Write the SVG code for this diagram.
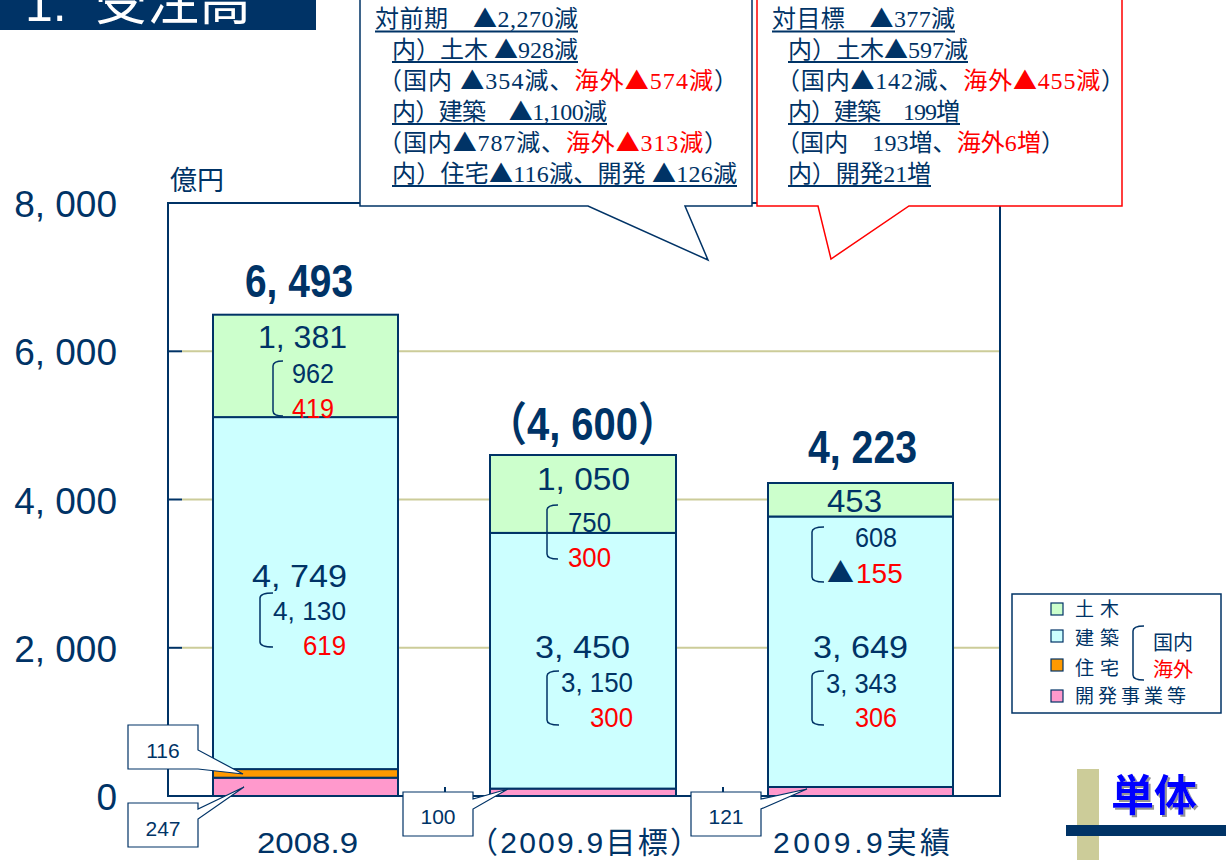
<svg xmlns="http://www.w3.org/2000/svg" width="1226" height="860" viewBox="0 0 1226 860">
<defs>
<style>
.sans{font-family:"Liberation Sans","Noto Sans CJK JP",sans-serif;fill:#003366}
.serif{font-family:"Liberation Serif","Noto Sans CJK JP",serif;fill:#003366;font-size:24px}
.cjk{font-family:"Noto Sans CJK JP",sans-serif;fill:#003366}
.tri{font-family:"Noto Sans CJK JP",sans-serif}
.red{fill:#FF0000}
.nv{stroke:#003366;stroke-width:2}
.br{stroke:#003366;stroke-width:1.5;fill:none}
.ul{stroke:#003366;stroke-width:2}
.grid{stroke:#CCCC99;stroke-width:2}
.tk{stroke:#003366;stroke-width:2}
.lbl{fill:#fff;stroke:#003366;stroke-width:1.2}
.n32{font-size:32px}
.n28{font-size:28px}
.tot{font-size:46px;font-weight:bold}
.ax{font-size:37px}
.g{fill:#CCFFCC}.c{fill:#CCFFFF}.o{fill:#FF9900}.p{fill:#FF99CC}
</style>
<filter id="sh" x="-10%" y="-10%" width="130%" height="130%">
<feDropShadow dx="2" dy="2" stdDeviation="0.6" flood-color="#888888" flood-opacity="0.9"/>
</filter>
</defs>
<rect width="1226" height="860" fill="#ffffff"/>

<g id="title">
<rect x="0" y="0" width="316" height="30" fill="#003366"/>
<text x="25" y="21" font-family="Liberation Sans,sans-serif" font-size="50" fill="#ffffff">1.</text>
<text x="95" y="20" font-family="Noto Sans CJK JP,sans-serif" font-size="52" fill="#ffffff">受注高</text>
</g>

<g id="axes">
<rect x="168" y="203" width="832" height="593" fill="#ffffff" stroke="#003366" stroke-width="2"/>
<line class="grid" x1="182" y1="351.3" x2="999" y2="351.3"/>
<line class="grid" x1="182" y1="499.5" x2="999" y2="499.5"/>
<line class="grid" x1="182" y1="647.8" x2="999" y2="647.8"/>
<line class="tk" x1="168" y1="351.3" x2="182" y2="351.3"/>
<line class="tk" x1="168" y1="499.5" x2="182" y2="499.5"/>
<line class="tk" x1="168" y1="647.8" x2="182" y2="647.8"/>
<line class="tk" x1="445" y1="787" x2="445" y2="796"/>
<line class="tk" x1="723" y1="787" x2="723" y2="796"/>
<text class="sans ax" x="117" y="217" text-anchor="end">8, 000</text>
<text class="sans ax" x="117" y="365" text-anchor="end">6, 000</text>
<text class="sans ax" x="117" y="514" text-anchor="end">4, 000</text>
<text class="sans ax" x="117" y="662" text-anchor="end">2, 000</text>
<text class="sans ax" x="117" y="810" text-anchor="end">0</text>
<text class="cjk" x="170" y="190" font-size="27">億円</text>
<text class="sans" x="257" y="853" font-size="30" textLength="101" lengthAdjust="spacingAndGlyphs">2008.9</text>
<text class="sans" x="468" y="853" font-size="30" textLength="232" lengthAdjust="spacing">（2009.9目標）</text>
<text class="sans" x="773" y="853" font-size="30" textLength="177" lengthAdjust="spacing">2009.9実績</text>
</g>

<g id="bar-2008">
<rect x="213" y="777.7" width="185" height="18.3" class="nv p"/>
<rect x="213" y="769.1" width="185" height="8.6" class="nv o"/>
<rect x="213" y="417.1" width="185" height="352" class="nv c"/>
<rect x="213" y="314.7" width="185" height="102.4" class="nv g"/>
<text class="sans tot" x="245" y="297" textLength="108" lengthAdjust="spacingAndGlyphs">6, 493</text>
<text class="sans n32" x="258" y="348" textLength="89" lengthAdjust="spacingAndGlyphs">1, 381</text>
<path class="br" d="M283,361 Q273,361 273,366 L273,411 Q273,416 283,416"/>
<text class="sans n28" x="292" y="383" textLength="42" lengthAdjust="spacingAndGlyphs">962</text>
<text class="sans n28 red" x="292" y="418" textLength="42" lengthAdjust="spacingAndGlyphs">419</text>
<text class="sans n32" x="252" y="587" textLength="95" lengthAdjust="spacingAndGlyphs">4, 749</text>
<path class="br" d="M273,593 Q260,593 260,598 L260,642 Q260,647 273,647"/>
<text class="sans" font-size="26" x="273" y="620" textLength="73" lengthAdjust="spacingAndGlyphs">4, 130</text>
<text class="sans n28 red" x="303" y="655" textLength="43" lengthAdjust="spacingAndGlyphs">619</text>
</g>

<g id="bar-2009-target">
<rect x="490" y="788.6" width="186" height="7.4" class="nv p"/>
<rect x="490" y="532.9" width="186" height="255.7" class="nv c"/>
<rect x="490" y="455" width="186" height="77.9" class="nv g"/>
<text class="sans tot" x="487" y="440" textLength="191" lengthAdjust="spacingAndGlyphs">（4, 600）</text>
<text class="sans n32" x="537" y="490" textLength="93" lengthAdjust="spacingAndGlyphs">1, 050</text>
<path class="br" d="M558,505 Q547,505 547,510 L547,554 Q547,559 558,559"/>
<text class="sans n28" x="568" y="532" textLength="43" lengthAdjust="spacingAndGlyphs">750</text>
<text class="sans n28 red" x="568" y="567" textLength="43" lengthAdjust="spacingAndGlyphs">300</text>
<text class="sans n32" x="535" y="658" textLength="95" lengthAdjust="spacingAndGlyphs">3, 450</text>
<path class="br" d="M559,671 Q547,671 547,676 L547,720 Q547,725 559,725"/>
<text class="sans n28" x="561" y="692" textLength="72" lengthAdjust="spacingAndGlyphs">3, 150</text>
<text class="sans n28 red" x="590" y="727" textLength="43" lengthAdjust="spacingAndGlyphs">300</text>
</g>

<g id="bar-2009-actual">
<rect x="768" y="787" width="185" height="9" class="nv p"/>
<rect x="768" y="516.5" width="185" height="270.5" class="nv c"/>
<rect x="768" y="483" width="185" height="33.5" class="nv g"/>
<text class="sans tot" x="808" y="463" textLength="109" lengthAdjust="spacingAndGlyphs">4, 223</text>
<text class="sans n32" x="827" y="512" textLength="55" lengthAdjust="spacingAndGlyphs">453</text>
<path class="br" d="M824,527 Q812,527 812,532 L812,577 Q812,582 824,582"/>
<text class="sans n28" x="855" y="547" textLength="42" lengthAdjust="spacingAndGlyphs">608</text>
<text class="sans n28" x="827" y="583"><tspan class="tri" font-size="27">▲</tspan><tspan class="red" x="856">155</tspan></text>
<text class="sans n32" x="813" y="658" textLength="95" lengthAdjust="spacingAndGlyphs">3, 649</text>
<path class="br" d="M824,671 Q812,671 812,676 L812,720 Q812,725 824,725"/>
<text class="sans n28" x="826" y="693" textLength="71" lengthAdjust="spacingAndGlyphs">3, 343</text>
<text class="sans n28 red" x="855" y="727" textLength="42" lengthAdjust="spacingAndGlyphs">306</text>
</g>

<g id="connectors">
<path class="lbl" d="M128,725 L198,725 L198,750 L243,774 L198,769 L128,769 Z"/>
<path class="lbl" d="M128,803 L198,803 L198,809 L244,787 L198,819 L198,847 L128,847 Z"/>
<path class="lbl" d="M403,792 L473,792 L473,799 L508,789 L473,809 L473,836 L403,836 Z"/>
<path class="lbl" d="M691,792 L761,792 L761,799 L807,789 L761,809 L761,836 L691,836 Z"/>
</g>

<g id="label-116"><text class="sans" font-size="21" x="163" y="758" text-anchor="middle">116</text></g>
<g id="label-247"><text class="sans" font-size="21" x="163" y="836" text-anchor="middle">247</text></g>
<g id="label-100"><text class="sans" font-size="21" x="438" y="824" text-anchor="middle">100</text></g>
<g id="label-121"><text class="sans" font-size="21" x="726" y="824" text-anchor="middle">121</text></g>

<g id="callout-prev">
<path d="M360,-2 L752,-2 L752,206 L685,206 L708,260 L588,206 L360,206 Z" fill="#ffffff" stroke="#003366" stroke-width="1.5"/>
<text class="serif" x="375" y="27" textLength="203" lengthAdjust="spacing">対前期　<tspan class="tri">▲</tspan>2,270減</text>
<text class="serif" x="392" y="58" textLength="186" lengthAdjust="spacing">内）土木 <tspan class="tri">▲</tspan>928減</text>
<text class="serif" x="378" y="89" textLength="360" lengthAdjust="spacing">（国内 <tspan class="tri">▲</tspan>354減、<tspan class="red">海外<tspan class="tri">▲</tspan>574減</tspan>）</text>
<text class="serif" x="392" y="120" textLength="215" lengthAdjust="spacing">内）建築　<tspan class="tri">▲</tspan>1,100減</text>
<text class="serif" x="378" y="151" textLength="350" lengthAdjust="spacing">（国内<tspan class="tri">▲</tspan>787減、<tspan class="red">海外<tspan class="tri">▲</tspan>313減</tspan>）</text>
<text class="serif" x="392" y="182" textLength="345" lengthAdjust="spacing">内）住宅<tspan class="tri">▲</tspan>116減、開発 <tspan class="tri">▲</tspan>126減</text>
<line class="ul" x1="375" y1="31.5" x2="578" y2="31.5"/>
<line class="ul" x1="392" y1="62" x2="578" y2="62"/>
<line class="ul" x1="392" y1="124" x2="607" y2="124"/>
<line class="ul" x1="392" y1="186" x2="737" y2="186"/>
</g>

<g id="callout-target">
<path d="M757,-2 L1122,-2 L1122,206 L909,206 L831,259 L818,206 L757,206 Z" fill="#ffffff" stroke="#FF0000" stroke-width="1.5"/>
<text class="serif" x="772" y="27" textLength="183" lengthAdjust="spacing">対目標　<tspan class="tri">▲</tspan>377減</text>
<text class="serif" x="788" y="58" textLength="180" lengthAdjust="spacing">内）土木<tspan class="tri">▲</tspan>597減</text>
<text class="serif" x="776" y="89" textLength="349" lengthAdjust="spacing">（国内<tspan class="tri">▲</tspan>142減、<tspan class="red">海外<tspan class="tri">▲</tspan>455減</tspan>）</text>
<text class="serif" x="788" y="120" textLength="172" lengthAdjust="spacing">内）建築　199増</text>
<text class="serif" x="776" y="151" textLength="289" lengthAdjust="spacing">（国内　193増、<tspan class="red">海外6増</tspan>）</text>
<text class="serif" x="788" y="182" textLength="143" lengthAdjust="spacing">内）開発21増</text>
<line class="ul" x1="772" y1="31.5" x2="955" y2="31.5"/>
<line class="ul" x1="788" y1="62" x2="968" y2="62"/>
<line class="ul" x1="788" y1="124" x2="960" y2="124"/>
<line class="ul" x1="788" y1="186" x2="931" y2="186"/>
</g>

<g id="legend">
<rect x="1012" y="594" width="209" height="119" fill="#ffffff" stroke="#003366" stroke-width="1.5"/>
<rect x="1051" y="603" width="12" height="12" fill="#CCFFCC" stroke="#003366" stroke-width="1.2"/>
<rect x="1051" y="630" width="12" height="12" fill="#CCFFFF" stroke="#003366" stroke-width="1.2"/>
<rect x="1051" y="659" width="12" height="12" fill="#FF9900" stroke="#003366" stroke-width="1.2"/>
<rect x="1051" y="690" width="12" height="12" fill="#FF99CC" stroke="#003366" stroke-width="1.2"/>
<text class="cjk" font-size="19" x="1075" y="616" letter-spacing="6">土木</text>
<text class="cjk" font-size="19" x="1075" y="645" letter-spacing="6">建築</text>
<text class="cjk" font-size="19" x="1075" y="675" letter-spacing="6">住宅</text>
<text class="cjk" font-size="19" x="1075" y="703" letter-spacing="4">開発事業等</text>
<path class="br" d="M1144,626 Q1133,626 1133,631 L1133,675 Q1133,680 1144,680"/>
<text class="cjk" font-size="20" x="1153" y="650">国内</text>
<text class="cjk red" font-size="20" x="1153" y="677">海外</text>
</g>

<g id="unit-badge">
<rect x="1077" y="769" width="22" height="91" fill="#CCCC99"/>
<rect x="1066" y="825" width="160" height="11" fill="#003366"/>
<text x="1111" y="811" font-family="Noto Sans CJK JP,sans-serif" font-size="43" font-weight="bold" fill="#0000FF" filter="url(#sh)">単体</text>
</g>
</svg>
